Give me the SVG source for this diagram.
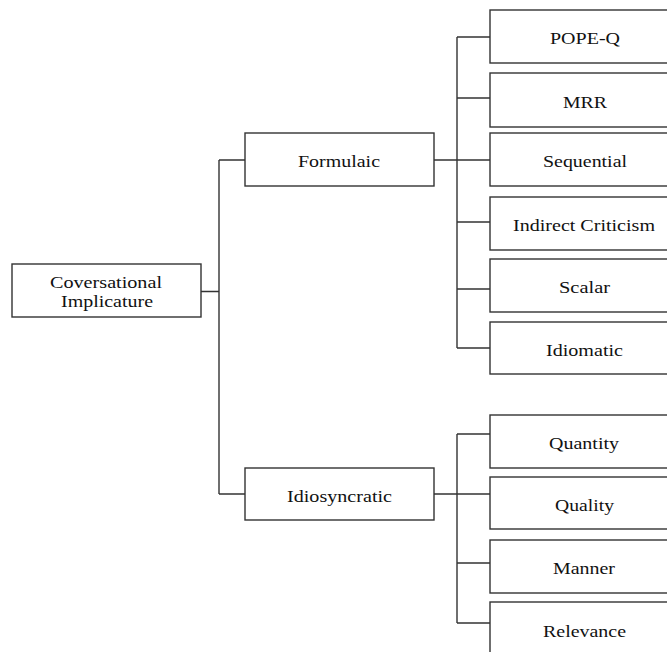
<svg xmlns="http://www.w3.org/2000/svg" width="667" height="652" viewBox="0 0 667 652">
<style>
.box{fill:#fff;stroke:#333;stroke-width:1.4}
.lbl{font-family:"Liberation Serif",serif;font-size:17px;fill:#111;text-anchor:middle}
.con{fill:none;stroke:#333;stroke-width:1.4}
</style>
<rect width="667" height="652" fill="#fff"/>
<g id="connectors" class="con">
<path d="M201 291.5H219M219 160V494M219 160H245M219 494H245"/>
<path d="M434 160H466M457 37V348M457 37H490M457 98H490M457 160H490M457 222H490M457 289H490M457 348H490"/>
<path d="M434 494H490M457 434V623M457 434H490M457 563H490M457 623H490"/>
</g>
<g id="ci"><rect class="box" x="12" y="264" width="189" height="53"/><text class="lbl" x="106" y="288" textLength="112" lengthAdjust="spacingAndGlyphs">Coversational</text><text class="lbl" x="107" y="307" textLength="92" lengthAdjust="spacingAndGlyphs">Implicature</text></g>
<g id="formulaic"><rect class="box" x="245" y="133" width="189" height="53"/><text class="lbl" x="339" y="167" textLength="82" lengthAdjust="spacingAndGlyphs">Formulaic</text></g>
<g id="idiosyncratic"><rect class="box" x="245" y="468" width="189" height="52"/><text class="lbl" x="339.5" y="501.5" textLength="105" lengthAdjust="spacingAndGlyphs">Idiosyncratic</text></g>
<g id="popeq"><rect class="box" x="490" y="10" width="200" height="53"/><text class="lbl" x="585" y="44" textLength="70" lengthAdjust="spacingAndGlyphs">POPE-Q</text></g>
<g id="mrr"><rect class="box" x="490" y="73" width="200" height="54"/><text class="lbl" x="585" y="107.5" textLength="44" lengthAdjust="spacingAndGlyphs">MRR</text></g>
<g id="sequential"><rect class="box" x="490" y="133" width="200" height="53"/><text class="lbl" x="585" y="167" textLength="84" lengthAdjust="spacingAndGlyphs">Sequential</text></g>
<g id="indirect"><rect class="box" x="490" y="197" width="200" height="53"/><text class="lbl" x="584" y="231" textLength="142" lengthAdjust="spacingAndGlyphs">Indirect Criticism</text></g>
<g id="scalar"><rect class="box" x="490" y="259" width="200" height="53"/><text class="lbl" x="584.5" y="293" textLength="51" lengthAdjust="spacingAndGlyphs">Scalar</text></g>
<g id="idiomatic"><rect class="box" x="490" y="322" width="200" height="52"/><text class="lbl" x="584.5" y="355.5" textLength="77" lengthAdjust="spacingAndGlyphs">Idiomatic</text></g>
<g id="quantity"><rect class="box" x="490" y="415" width="200" height="53"/><text class="lbl" x="584" y="449" textLength="70" lengthAdjust="spacingAndGlyphs">Quantity</text></g>
<g id="quality"><rect class="box" x="490" y="477" width="200" height="52"/><text class="lbl" x="584.5" y="510.5" textLength="59" lengthAdjust="spacingAndGlyphs">Quality</text></g>
<g id="manner"><rect class="box" x="490" y="540" width="200" height="53"/><text class="lbl" x="584" y="574" textLength="62" lengthAdjust="spacingAndGlyphs">Manner</text></g>
<g id="relevance"><rect class="box" x="490" y="602" width="200" height="60"/><text class="lbl" x="584.5" y="637" textLength="83" lengthAdjust="spacingAndGlyphs">Relevance</text></g>
</svg>
